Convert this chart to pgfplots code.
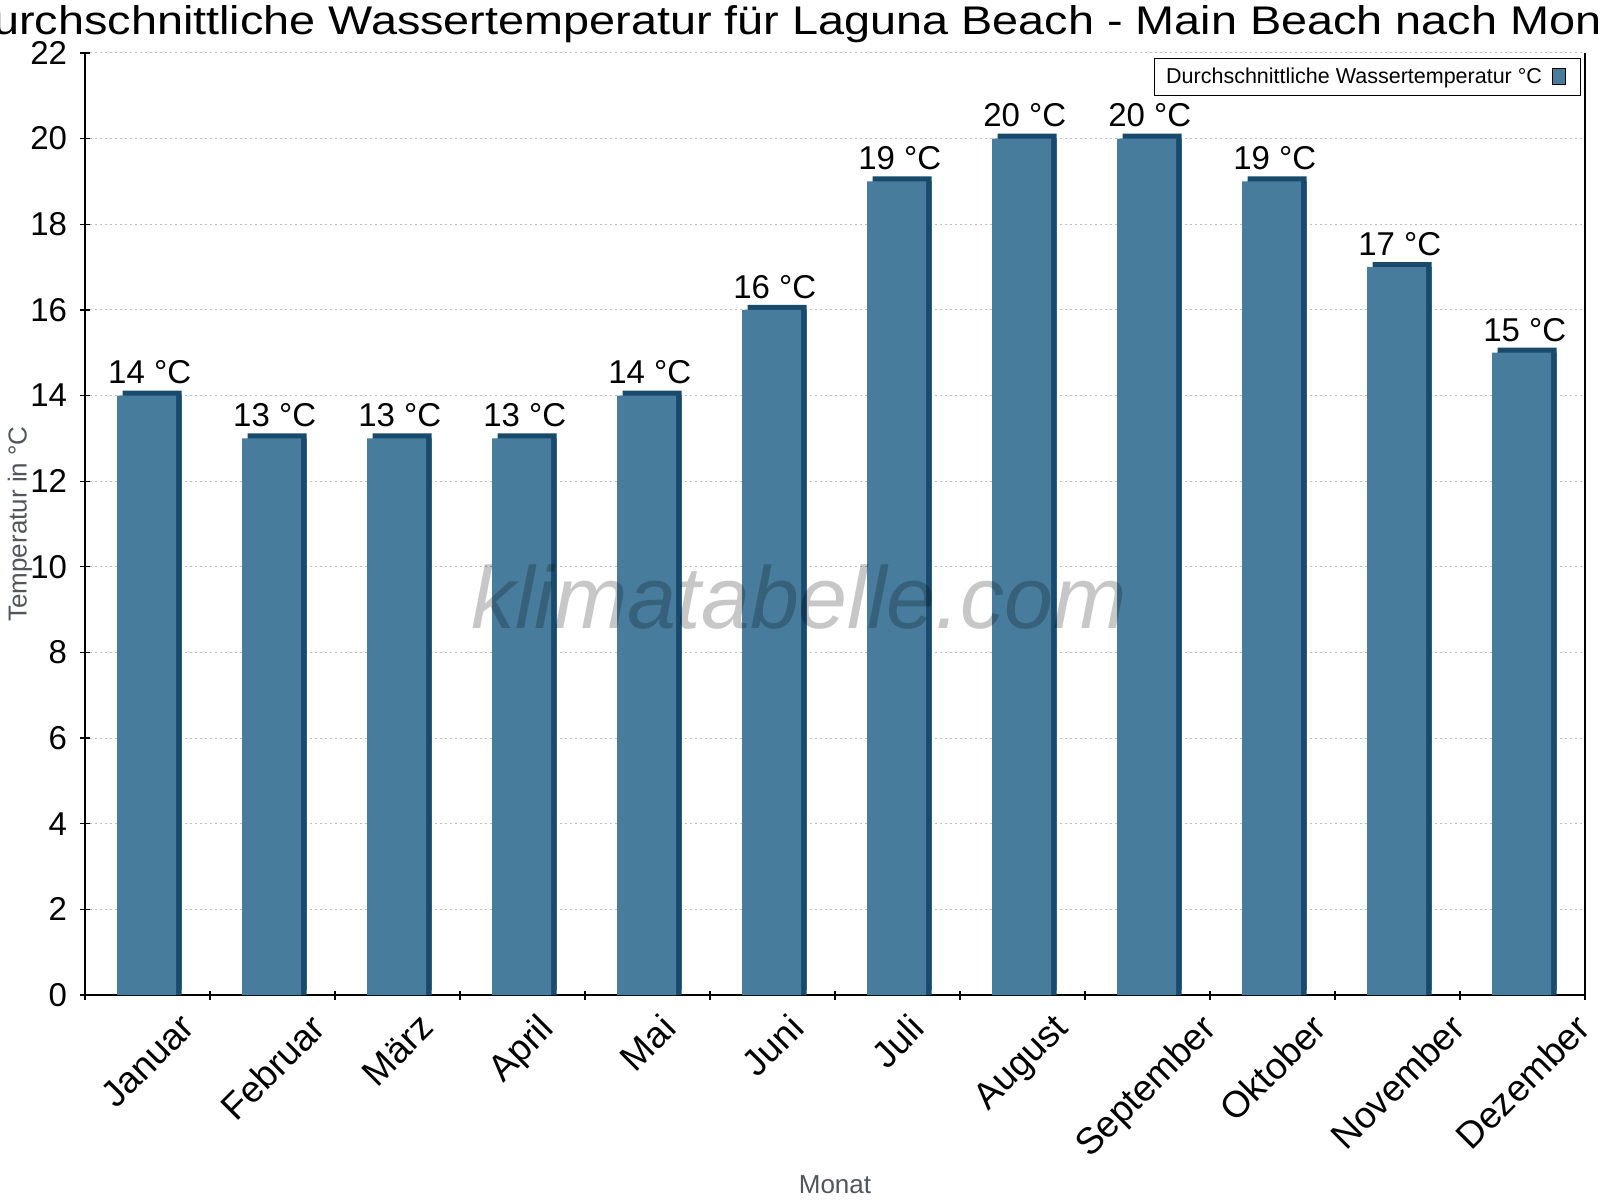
\documentclass[border=0pt]{standalone}
\usepackage{fontspec}
\setmainfont{Liberation Sans}
\usepackage{graphicx}
\usepackage{pgfplots}
\pgfplotsset{compat=1.18}

\definecolor{barfront}{RGB}{71,124,157}
\definecolor{barside}{RGB}{24,74,108}
\definecolor{labelgray}{RGB}{80,86,92}
\definecolor{gridgray}{RGB}{192,192,192}
\newcommand{\rl}[1]{\rotatebox{45}{#1}}

\pgfplotstableread{
m  t
1  14
2  13
3  13
4  13
5  14
6  16
7  19
8  20
9  20
10 19
11 17
12 15
}\wasser

\begin{document}
\begin{tikzpicture}
\begin{axis}[
    width=750pt, height=471pt, scale only axis,
    xmin=0.5, xmax=12.5, ymin=0, ymax=22,
    enlargelimits=false, clip=false,
    axis x line=bottom, axis y line=box,
    axis line style={-, line width=0.65pt},
    ytick={0,2,...,22}, ytick pos=left,
    xtick={1,...,12},
    xticklabels={\rl{Januar},\rl{Februar},\rl{März},\rl{April},\rl{Mai},\rl{Juni},
        \rl{Juli},\rl{August},\rl{September},\rl{Oktober},\rl{November},\rl{Dezember}},
    minor xtick={0.5,1.5,...,12.5},
    major x tick style={draw=none},
    tick style={black, line width=0.65pt},
    major tick length=4.5pt, minor tick length=4.5pt,
    tick align=center,
    /pgf/number format/assume math mode=true,
    yticklabel style={anchor=east, inner sep=0pt, xshift=-6.5pt,
        font=\fontsize{16.5}{19}\selectfont},
    xticklabel style={anchor=north, inner sep=0pt, yshift=-6pt,
        font=\fontsize{18.5}{22}\selectfont},
    ymajorgrids,
    major grid style={gridgray, line width=0.5pt, dash pattern=on 1pt off 1.5pt},
    title={\scalebox{1.17}[1]{Durchschnittliche Wassertemperatur für Laguna Beach - Main Beach nach Monat}},
    title style={at={(axis description cs:0.4767,1.0064)}, anchor=base,
        font=\fontsize{20}{24}\selectfont},
    ylabel={Temperatur in °C},
    ylabel style={at={(axis description cs:-0.04333,0.5)}, anchor=center,
        text=labelgray, font=\fontsize{13}{15}\selectfont},
    xlabel={Monat},
    xlabel style={at={(axis description cs:0.5,-0.2102)}, anchor=base,
        text=labelgray, font=\fontsize{13}{15}\selectfont},
    legend plot pos=right,
    legend style={at={(axis description cs:1,1)}, anchor=north east,
        xshift=-2pt, yshift=-2.5pt, draw=black, line width=0.5pt,
        font=\fontsize{10.75}{12}\selectfont, inner xsep=4pt, inner ysep=2.5pt,
        /tikz/every odd column/.append style={column sep=3pt}},
]
% dark side and top of the bars
\addplot[ybar, bar width=29.5pt, bar shift=2.35pt,
    fill=barside, draw=none, forget plot] table[x=m, y=t] {\wasser};
\addplot[ybar, bar width=29.5pt, bar shift=2.35pt, yshift=2.5pt,
    fill=barside, draw=none, forget plot] table[x=m, y=t] {\wasser};
% front face
\addplot[ybar, bar width=29.5pt, bar shift=-0.4pt, fill=barfront, draw=none,
    nodes near coords={\pgfmathprintnumber{\pgfplotspointmeta} °C},
    nodes near coords style={anchor=south, inner sep=0pt, yshift=5.5pt, xshift=1.1pt,
        font=\fontsize{16.5}{19}\selectfont},
    legend image code/.code={\draw[fill=barfront, draw=black, line width=0.5pt]
        (0pt,-4pt) rectangle (6.5pt,4pt); \path (10pt,0pt);}]
    table[x=m, y=t] {\wasser};
\addlegendentry{Durchschnittliche Wassertemperatur °C}
\node[text=black, text opacity=0.22, font=\fontsize{44}{50}\selectfont\itshape]
    at (axis description cs:0.476,0.4225) {klimatabelle.com};
\end{axis}
\pgfresetboundingbox
\path[use as bounding box] (-42.5pt,-102.5pt) rectangle (757.5pt,497.5pt);
\end{tikzpicture}
\end{document}
